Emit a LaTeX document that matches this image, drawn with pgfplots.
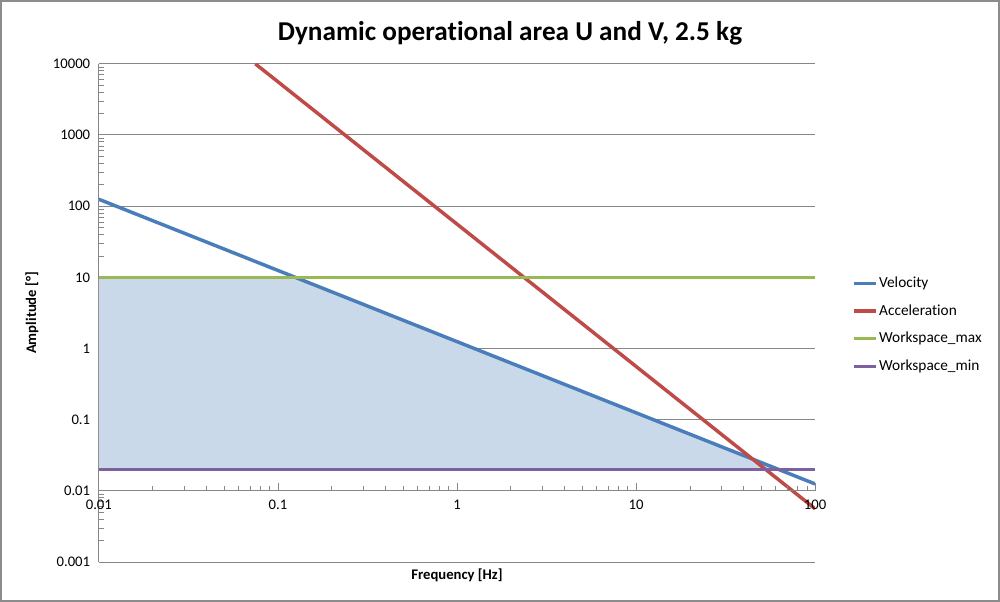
\documentclass[border=0pt]{standalone}
\usepackage{pgfplots}
\pgfplotsset{compat=1.18}
\usepackage{fontspec}
\setmainfont{Carlito}[Ligatures=NoCommon]

\definecolor{velo}{RGB}{74,126,187}
\definecolor{accel}{RGB}{190,75,72}
\definecolor{wmax}{RGB}{152,185,84}
\definecolor{wmin}{RGB}{125,96,160}
\definecolor{areafill}{RGB}{201,217,234}
\definecolor{gridgray}{RGB}{134,134,134}
\definecolor{framegray}{RGB}{140,140,140}

\begin{document}
\begin{tikzpicture}
% outer chart frame
\draw[framegray, line width=1.2pt] (-73.5pt,-29.25pt) rectangle (675pt,420.75pt);

\begin{axis}[
  name=main,
  scale only axis, width=537pt, height=373.5pt,
  at={(0,0)}, anchor=south west,
  xmode=log, ymode=log,
  xmin=0.01, xmax=100, ymin=0.001, ymax=10000,
  axis x line=none, axis y line*=left,
  y axis line style={gridgray, line width=0.9pt},
  ytick={0.001,0.01,0.1,1,10,100,1000,10000},
  yticklabels={0.001,0.01,0.1,1,10,100,1000,10000},
  minor ytick={0.002,0.003,0.004,0.005,0.006,0.007,0.008,0.009,
               0.02,0.03,0.04,0.05,0.06,0.07,0.08,0.09,
               0.2,0.3,0.4,0.5,0.6,0.7,0.8,0.9,
               2,3,4,5,6,7,8,9,
               20,30,40,50,60,70,80,90,
               200,300,400,500,600,700,800,900,
               2000,3000,4000,5000,6000,7000,8000,9000},
  ymajorgrids,
  major grid style={gridgray, line width=0.75pt},
  tick align=inside, major tick length=0pt, minor tick length=4pt,
  tick style={gridgray, line width=0.6pt},
  yticklabel style={font=\fontsize{11}{13}\selectfont, xshift=-3pt},
  legend style={at={(axis description cs:1.046,0.476)}, anchor=west,
    draw=none, fill=none, font=\fontsize{11.5}{13}\selectfont,
    row sep=7.2pt, nodes={inner xsep=1pt}},
  legend cell align=left,
  legend image code/.code={\draw[#1] (0cm,0cm) -- (0.58cm,0cm);},
  clip=true,
]
% operational area between the workspace limits, under the velocity limit
\addplot[fill=areafill, draw=none, forget plot] coordinates {
  (0.01,0.02) (0.01,10) (0.125,10) (62.5,0.02)
} -- cycle;

\addplot[velo, line width=2.6pt] coordinates {
  (0.01,125) (0.1,12.5) (1,1.25) (10,0.125) (100,0.0125)
};
\addlegendentry{Velocity}
\addplot[accel, line width=2.6pt] coordinates {
  (0.0748,10000) (0.1,5600) (1,56) (10,0.56) (100,0.0056)
};
\addlegendentry{Acceleration}
\addplot[wmax, line width=2.6pt] coordinates {
  (0.01,10) (100,10)
};
\addlegendentry{Workspace\_max}
\addplot[wmin, line width=2.6pt] coordinates {
  (0.01,0.02) (100,0.02)
};
\addlegendentry{Workspace\_min}
\end{axis}

% horizontal axis, crossing the vertical one at 0.01
\begin{axis}[
  scale only axis, width=537pt, height=320.142857pt,
  at={(0,53.357143pt)}, anchor=south west,
  xmode=log, ymode=log,
  xmin=0.01, xmax=100, ymin=0.01, ymax=10000,
  axis y line=none, axis x line*=bottom,
  x axis line style={gridgray, line width=0.9pt},
  xtick={0.01,0.1,1,10,100},
  xticklabels={0.01,0.1,1,10,100},
  minor xtick={0.02,0.03,0.04,0.05,0.06,0.07,0.08,0.09,
               0.2,0.3,0.4,0.5,0.6,0.7,0.8,0.9,
               2,3,4,5,6,7,8,9,
               20,30,40,50,60,70,80,90},
  tick align=inside, major tick length=6pt, minor tick length=4pt,
  tick style={gridgray, line width=0.6pt},
  xticklabel style={font=\fontsize{11}{13}\selectfont, yshift=-3pt},
]
\end{axis}

\node[font=\fontsize{20.4}{24}\selectfont\bfseries] at (308.25pt,396.75pt)
  {Dynamic operational area U and V, 2.5 kg};
\node[font=\fontsize{11}{13}\selectfont\bfseries, rotate=90] at (-50.25pt,186.75pt)
  {Amplitude [°]};
\node[font=\fontsize{11}{13}\selectfont\bfseries] at (268.5pt,-9.75pt)
  {Frequency [Hz]};
\end{tikzpicture}
\end{document}
